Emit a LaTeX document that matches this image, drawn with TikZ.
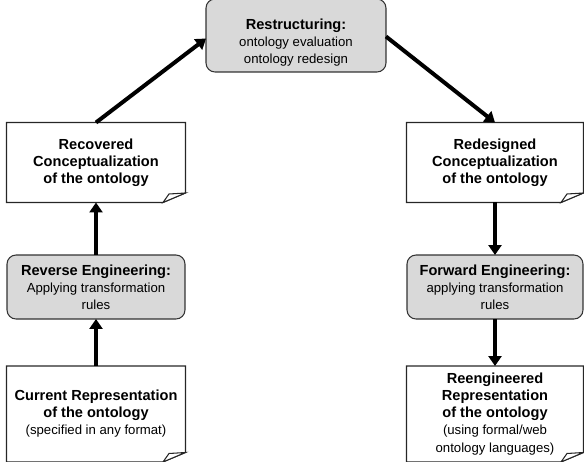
\documentclass[tikz,border=0pt]{standalone}
\usepackage{fontspec}
\setmainfont{Liberation Sans}
\usetikzlibrary{arrows.meta}

\tikzset{
  doc/.style={rectangle,minimum width=3.58cm,minimum height=1.6cm,align=center,inner sep=0pt,outer sep=0pt},
  proc/.style={rectangle,rounded corners=0.18cm,draw=black!80,fill=black!15,line width=0.6pt,
    minimum width=3.56cm,minimum height=1.28cm,align=center,inner sep=0pt,outer sep=0pt},
  flow/.style={line width=0.08cm,-{Triangle[length=0.2cm,width=0.26cm]}},
  docline/.style={draw=black!85,line width=0.6pt}
}
\newcommand{\hdfont}{\fontsize{8.3}{9.7}\selectfont\bfseries}
\newcommand{\subfont}{\fontsize{7.5}{9.7}\selectfont}
% page with the folded corner
\newcommand{\docframe}[1]{%
  \draw[docline] (#1.north west) -- (#1.north east) -- ([yshift=0.19cm]#1.south east)
    -- ([xshift=-0.45cm]#1.south east) -- (#1.south west) -- cycle;
  \draw[docline,fill=white] ([xshift=-0.45cm]#1.south east) -- ([xshift=-0.33cm,yshift=0.17cm]#1.south east)
    -- ([yshift=0.19cm]#1.south east) -- cycle;
}

\begin{document}
\begin{tikzpicture}[x=0.02cm,y=0.02cm,font=\subfont]
  \useasboundingbox (0,0) rectangle (584,461);

  % top
  \node[proc,minimum width=3.6cm,minimum height=1.46cm] (restr) at (296,425.5)
    {\rule{0pt}{14pt}\hdfont Restructuring:\\ ontology evaluation\\ ontology redesign};

  % left column
  \node[doc] (recov) at (96,298.5) {\hdfont Recovered\\ \hdfont Conceptualization\\ \hdfont of the ontology};
  \node[proc] (rev) at (96,174) {\hdfont Reverse Engineering:\\ Applying transformation\\ rules};
  \node[doc,minimum height=1.92cm] (cur) at (96,47)
    {\hdfont Current Representation\\ \hdfont of the ontology\\ (specified in any format)};

  % right column
  \node[doc,minimum width=3.54cm] (redes) at (495,298.5) {\hdfont Redesigned\\ \hdfont Conceptualization\\ \hdfont of the ontology};
  \node[proc,minimum width=3.52cm] (fwd) at (495,174) {\hdfont Forward Engineering:\\ applying transformation\\ rules};
  \node[doc,minimum width=3.54cm,minimum height=1.92cm] (reeng) at (495,47)
    {\hdfont Reengineered\\ \hdfont Representation\\ \hdfont of the ontology\\ (using formal/web\\ ontology languages)};

  \docframe{recov}
  \docframe{cur}
  \docframe{redes}
  \docframe{reeng}

  \draw[flow] (cur.north) -- (rev.south);
  \draw[flow] (rev.north) -- (recov.south);
  \draw[flow] (recov.north) -- ([yshift=-0.06cm]restr.west);
  \draw[flow] ([yshift=-0.02cm]restr.east) -- (redes.north);
  \draw[flow] (redes.south) -- (fwd.north);
  \draw[flow] (fwd.south) -- (reeng.north);
\end{tikzpicture}
\end{document}
